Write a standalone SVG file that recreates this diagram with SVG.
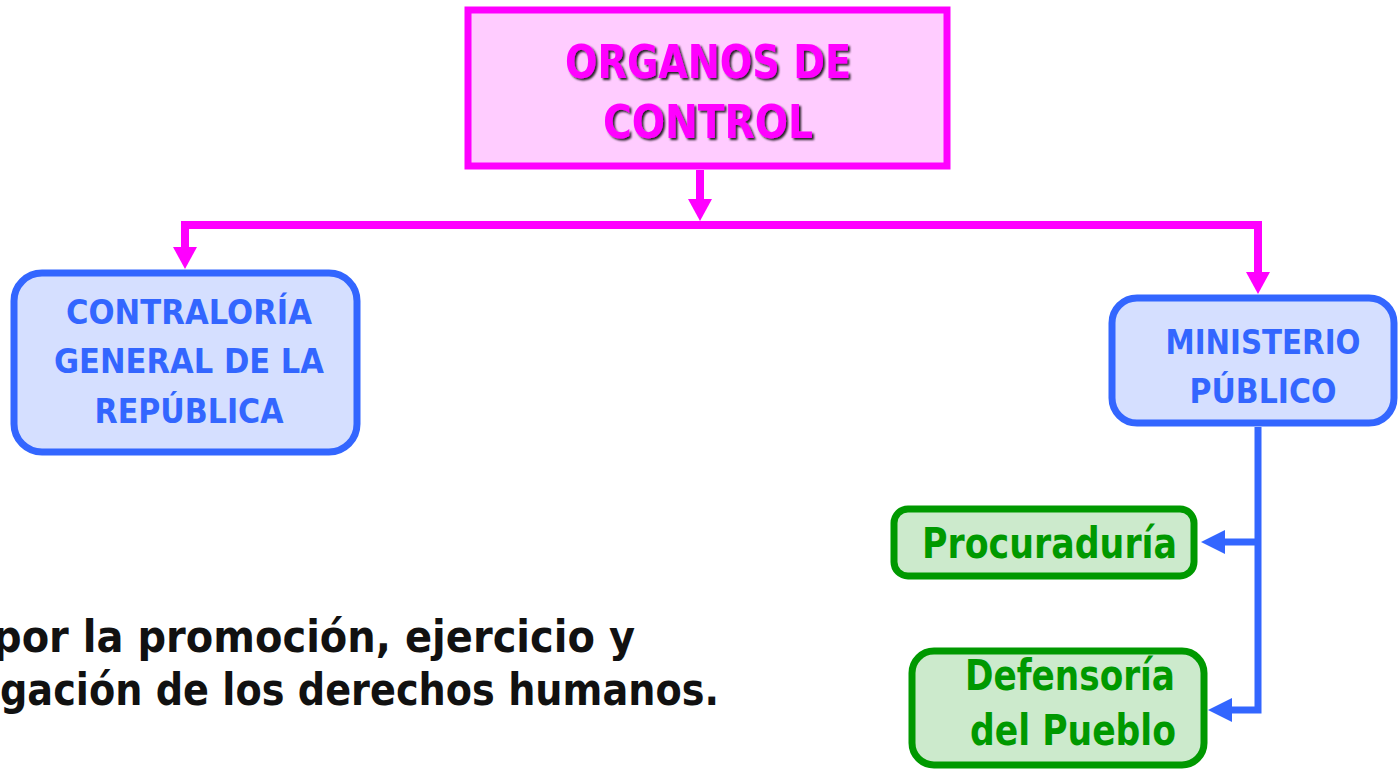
<svg xmlns="http://www.w3.org/2000/svg" width="1398" height="771" viewBox="0 0 1398 771">
<style>
.t{font-family:"DejaVu Sans","Liberation Sans",sans-serif;font-weight:bold}
.pink{fill:#FFCCFF;stroke:#FF00FF;stroke-width:7}
.blue{fill:#D5DFFF;stroke:#3366FF;stroke-width:7}
.green{fill:#CCEACC;stroke:#009900;stroke-width:7}
.bt{fill:#3366FF;font-size:34px}
.gt{fill:#009900;font-size:42px}
.pl{fill:none;stroke:#FF00FF;stroke-width:8}
.bl{fill:none;stroke:#3366FF;stroke-width:7}
</style>
<defs>
<marker id="ap" markerUnits="userSpaceOnUse" viewBox="0 0 22 24" markerWidth="22" markerHeight="24" refX="0" refY="12" orient="auto"><path d="M0,0 L22,12 L0,24 z" fill="#FF00FF"/></marker>
<marker id="ab" markerUnits="userSpaceOnUse" viewBox="0 0 24 24" markerWidth="24" markerHeight="24" refX="0" refY="12" orient="auto"><path d="M0,0 L24,12 L0,24 z" fill="#3366FF"/></marker>
<filter id="sh" x="-10%" y="-20%" width="120%" height="140%"><feDropShadow dx="2" dy="2" stdDeviation="1" flood-color="#000" flood-opacity="0.85"/></filter>
</defs>
<rect width="1398" height="771" fill="#FFFFFF"/>
<g id="connectors">
<path class="pl" d="M700,170 V199" marker-end="url(#ap)"/>
<path class="pl" d="M700,225 H185 V247" marker-end="url(#ap)"/>
<path class="pl" d="M700,225 H1258 V272" marker-end="url(#ap)"/>
<path class="bl" d="M1258,427 V710 H1232" marker-end="url(#ab)"/>
<path class="bl" d="M1258,542 H1225" marker-end="url(#ab)"/>
</g>
<g id="organos">
<rect class="pink" x="468" y="10" width="479" height="156"/>
<g class="t" fill="#FF00FF" font-size="47" text-anchor="middle" filter="url(#sh)">
<text x="708" y="78" textLength="286" lengthAdjust="spacingAndGlyphs">ORGANOS DE</text>
<text x="708" y="138" textLength="210" lengthAdjust="spacingAndGlyphs">CONTROL</text>
</g>
</g>
<g id="contraloria">
<rect class="blue" x="14" y="273" width="343" height="179" rx="28"/>
<g class="t bt" text-anchor="middle">
<text x="189" y="324" textLength="246" lengthAdjust="spacingAndGlyphs">CONTRALORÍA</text>
<text x="189" y="373" textLength="270" lengthAdjust="spacingAndGlyphs">GENERAL DE LA</text>
<text x="189" y="423" textLength="189" lengthAdjust="spacingAndGlyphs">REPÚBLICA</text>
</g>
</g>
<g id="ministerio">
<rect class="blue" x="1112" y="298" width="282" height="125" rx="25"/>
<g class="t bt" text-anchor="middle">
<text x="1263" y="354" textLength="195" lengthAdjust="spacingAndGlyphs">MINISTERIO</text>
<text x="1263" y="403" textLength="147" lengthAdjust="spacingAndGlyphs">PÚBLICO</text>
</g>
</g>
<g id="procuraduria">
<rect class="green" x="894" y="509" width="300" height="67" rx="14"/>
<text class="t gt" x="922" y="558" textLength="255" lengthAdjust="spacingAndGlyphs">Procuraduría</text>
</g>
<g id="defensoria">
<rect class="green" x="912" y="651" width="292" height="114" rx="22"/>
<text class="t gt" x="965" y="690" textLength="210" lengthAdjust="spacingAndGlyphs">Defensoría</text>
<text class="t gt" x="970" y="745" textLength="206" lengthAdjust="spacingAndGlyphs">del Pueblo</text>
</g>
<g id="texto" class="t" fill="#111111" font-size="45">
<text x="-7" y="652" textLength="642" lengthAdjust="spacingAndGlyphs">por la promoción, ejercicio y</text>
<text x="0" y="705" textLength="719" lengthAdjust="spacingAndGlyphs">gación de los derechos humanos.</text>
</g>
</svg>
